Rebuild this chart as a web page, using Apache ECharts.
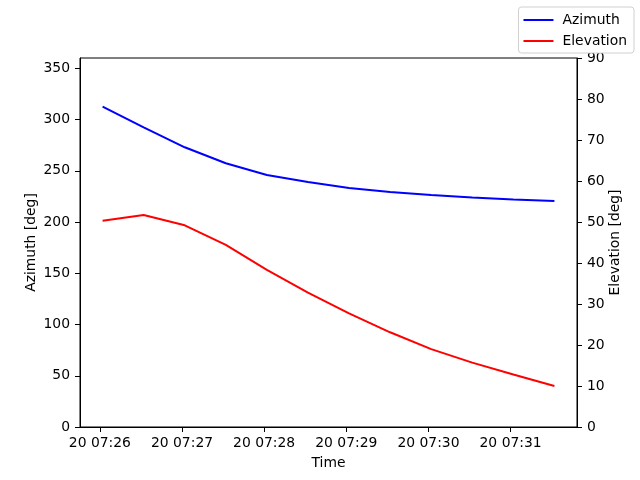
<!DOCTYPE html>
<html><head><meta charset="utf-8">
<script src="https://cdn.jsdelivr.net/npm/echarts@6/dist/echarts.min.js"></script>
<style>html,body{margin:0;padding:0;background:#fff}#c{width:640px;height:480px}</style>
</head><body><div id="c"></div>
<script>
const times = ["07:26:02","07:26:32","07:27:02","07:27:32","07:28:02","07:28:32","07:29:02","07:29:32","07:30:02","07:30:32","07:31:02","07:31:32"];
const azimuth = [312.5,292.4,272.9,257.3,245.9,239.0,233.2,229.3,226.3,223.9,222.0,220.5];
const elevation = [50.3,51.7,49.2,44.4,38.3,32.8,27.7,23.1,19.0,15.7,12.8,10.0];
const tickTimes = ["07:26:00","07:27:00","07:28:00","07:29:00","07:30:00","07:31:00"];
const DAY = 20;

function ts(s){const p=s.split(':').map(Number);return Date.UTC(2024,0,DAY,p[0],p[1],p[2]);}
const xs = times.map(ts);
const ticks = tickTimes.map(ts);
const pad = (xs[xs.length-1]-xs[0])*0.05;
const pad2=n=>String(n).padStart(2,'0');
const font = 'DejaVu Sans';
const chart = echarts.init(document.getElementById('c'));
chart.setOption({
  animation:false,
  textStyle:{fontFamily:font},
  grid:{left:80,right:63,top:58,bottom:53,show:true,borderColor:'#000',borderWidth:1,containLabel:false},
  legend:{orient:'vertical',right:6,top:7,padding:[6,7,5,5],itemGap:7,itemWidth:30,itemHeight:2,
    icon:'rect',borderColor:'#d0d0d0',borderWidth:1,borderRadius:3,backgroundColor:'#fff',
    textStyle:{fontFamily:font,fontSize:13.9,color:'#000',padding:[0,0,0,4]},
    data:['Azimuth','Elevation']},
  xAxis:{type:'value',min:xs[0]-pad,max:xs[xs.length-1]+pad,name:'Time',nameLocation:'middle',nameGap:29,nameMoveOverlap:false,
    nameTextStyle:{fontFamily:font,fontSize:13.9,color:'#000'},
    axisLine:{show:true,lineStyle:{color:'#000'}},
    axisTick:{show:true,length:5,inside:false,lineStyle:{color:'#000'},customValues:ticks},
    axisLabel:{customValues:ticks,fontFamily:font,fontSize:13.9,color:'#000',margin:9,
      formatter:v=>{const d=new Date(v);return pad2(d.getUTCDate())+' '+pad2(d.getUTCHours())+':'+pad2(d.getUTCMinutes());}},
    splitLine:{show:false}},
  yAxis:[
    {type:'value',min:0,max:360,interval:50,position:'left',name:'Azimuth [deg]',nameLocation:'middle',nameRotate:90,nameGap:42,nameMoveOverlap:false,
     nameTextStyle:{fontFamily:font,fontSize:13.9,color:'#000'},
     axisLine:{show:true,lineStyle:{color:'#000'}},axisTick:{show:true,length:5,lineStyle:{color:'#000'}},
     axisLabel:{fontFamily:font,fontSize:13.9,color:'#000',margin:10,showMaxLabel:false},splitLine:{show:false}},
    {type:'value',min:0,max:90,interval:10,position:'right',name:'Elevation [deg]',nameLocation:'middle',nameRotate:90,nameGap:31,nameMoveOverlap:false,
     nameTextStyle:{fontFamily:font,fontSize:13.9,color:'#000'},
     axisLine:{show:true,lineStyle:{color:'#000'}},axisTick:{show:true,length:5,lineStyle:{color:'#000'}},
     axisLabel:{fontFamily:font,fontSize:13.9,color:'#000',margin:10},splitLine:{show:false}}
  ],
  series:[
    {name:'Azimuth',type:'line',yAxisIndex:0,showSymbol:false,symbol:'none',color:'#0000ff',lineStyle:{width:2,color:'#0000ff'},
     data:xs.map((x,i)=>[x,azimuth[i]])},
    {name:'Elevation',type:'line',yAxisIndex:1,showSymbol:false,symbol:'none',color:'#ff0000',lineStyle:{width:2,color:'#ff0000'},
     data:xs.map((x,i)=>[x,elevation[i]])}
  ]
});
</script></body></html>
